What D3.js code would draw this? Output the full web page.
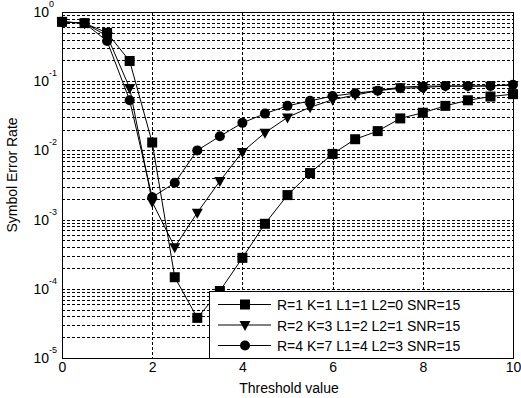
<!DOCTYPE html>
<html>
<head>
<meta charset="utf-8">
<script src="https://cdn.jsdelivr.net/npm/d3@7"></script>
<style>
  html, body { margin: 0; padding: 0; background: #fff; }
  svg { display: block; font-family: "Liberation Sans", Arial, sans-serif; }
</style>
</head>
<body>
<svg id="chart" width="521" height="398"></svg>
<script>
// Threshold values (x) shared by all three curves
const thresholds = [0, 0.5, 1, 1.5, 2, 2.5, 3, 3.5, 4, 4.5, 5, 5.5, 6, 6.5, 7, 7.5, 8, 8.5, 9, 9.5, 10];

// Symbol error rate for each parameter set
const serR1 = [0.72, 0.69, 0.5, 0.196, 0.013, 1.47e-4, 3.8e-5, 9.3e-5, 2.8e-4, 8.7e-4, 2.26e-3, 4.7e-3, 8.9e-3, 0.0145, 0.019, 0.029, 0.035, 0.044, 0.053, 0.06, 0.065];
const serR2 = [0.72, 0.69, 0.45, 0.08, 1.8e-3, 4.0e-4, 1.26e-3, 3.6e-3, 9.5e-3, 0.018, 0.030, 0.042, 0.054, 0.063, 0.073, 0.082, 0.085, 0.085, 0.085, 0.086, 0.088];
const serR4 = [0.72, 0.69, 0.38, 0.053, 2.1e-3, 3.4e-3, 0.010, 0.016, 0.025, 0.034, 0.044, 0.052, 0.061, 0.067, 0.073, 0.079, 0.081, 0.085, 0.085, 0.085, 0.089];

const seriesLabels = ["R=1 K=1 L1=1 L2=0 SNR=15", "R=2 K=3 L1=2 L2=1 SNR=15", "R=4 K=7 L1=4 L2=3 SNR=15"];
const seriesMarkers = ["square", "triangleDown", "circle"];

const xTicks = [0, 2, 4, 6, 8, 10];
const yExponents = [0, -1, -2, -3, -4, -5];
const xLabel = "Threshold value";
const yLabel = "Symbol Error Rate";

const svg = d3.select("#chart");
const pLeft = 62, pRight = 513, pTop = 12, pBottom = 358;

const x = d3.scaleLinear().domain([0, 10]).range([pLeft, pRight]);
const y = d3.scaleLog().domain([1e-5, 1]).range([pBottom, pTop]);

const series = [serR1, serR2, serR4].map((vals, i) => ({
  label: seriesLabels[i],
  marker: seriesMarkers[i],
  points: thresholds.map((t, j) => ({ x: t, y: vals[j] }))
}));

// Grid: every decade plus minor 2..9 lines
const gridVals = [];
for (let e = -5; e < 0; e++) {
  for (let m = 1; m <= 9; m++) gridVals.push(m * Math.pow(10, e));
}
const grid = svg.append("g").attr("stroke", "#000").attr("stroke-width", 1)
  .attr("stroke-dasharray", "3,2").attr("shape-rendering", "crispEdges");
grid.selectAll("line.h").data(gridVals.filter(v => v > 1e-5)).join("line")
  .attr("class", "h")
  .attr("x1", pLeft).attr("x2", pRight)
  .attr("y1", d => Math.round(y(d)) + 0.5).attr("y2", d => Math.round(y(d)) + 0.5);
grid.selectAll("line.v").data(xTicks.filter(t => t > 0 && t < 10)).join("line")
  .attr("class", "v")
  .attr("y1", pTop).attr("y2", pBottom)
  .attr("x1", d => Math.round(x(d)) + 0.5).attr("x2", d => Math.round(x(d)) + 0.5);

// Axes box
svg.append("rect")
  .attr("x", pLeft + 0.5).attr("y", pTop + 0.5)
  .attr("width", pRight - pLeft).attr("height", pBottom - pTop)
  .attr("fill", "none").attr("stroke", "#000").attr("stroke-width", 1)
  .attr("shape-rendering", "crispEdges");

// X axis tick labels
const xAxis = d3.axisBottom(x).tickValues(xTicks).tickSize(0).tickPadding(4).tickFormat(d3.format("d"));
const gx = svg.append("g").attr("transform", `translate(0,${pBottom})`).call(xAxis);
gx.select(".domain").remove();
gx.selectAll("text").attr("font-size", 14).attr("fill", "#000")
  .attr("font-family", "Liberation Sans, Arial, sans-serif");

// Y axis tick labels (10 with superscript exponent)
const yLab = svg.append("g");
yExponents.forEach(e => {
  const yy = y(Math.pow(10, e));
  yLab.append("text").attr("x", 49).attr("y", yy + 5)
    .attr("text-anchor", "end").attr("font-size", 14).attr("fill", "#000").text("10");
  yLab.append("text").attr("x", 49).attr("y", yy - 5)
    .attr("font-size", 9).attr("fill", "#000").text(e === 0 ? "0" : "-" + Math.abs(e));
});

// Axis titles
svg.append("text").attr("x", 289).attr("y", 393)
  .attr("text-anchor", "middle").attr("font-size", 14).text(xLabel);
svg.append("text").attr("transform", `translate(17,175) rotate(-90)`)
  .attr("text-anchor", "middle").attr("font-size", 14).text(yLabel);

// Marker drawing helper
function drawMarker(g, type, cx, cy) {
  if (type === "square") {
    g.append("rect").attr("x", cx - 5).attr("y", cy - 5).attr("width", 10).attr("height", 10).attr("fill", "#000");
  } else if (type === "triangleDown") {
    g.append("path").attr("d", `M${cx - 5.5},${cy - 4} L${cx + 5.5},${cy - 4} L${cx},${cy + 6} Z`).attr("fill", "#000");
  } else {
    g.append("circle").attr("cx", cx).attr("cy", cy).attr("r", 5).attr("fill", "#000");
  }
}

const line = d3.line().x(d => x(d.x)).y(d => y(d.y));
const plot = svg.append("g");
series.forEach(s => {
  plot.append("path").datum(s.points).attr("d", line)
    .attr("fill", "none").attr("stroke", "#000").attr("stroke-width", 1);
  const mg = plot.append("g");
  s.points.forEach(p => drawMarker(mg, s.marker, x(p.x), y(p.y)));
});

// Legend
const lg = svg.append("g");
lg.append("rect").attr("x", 209.5).attr("y", 291.5).attr("width", pRight - 209).attr("height", pBottom - 291)
  .attr("fill", "#fff").attr("stroke", "#000").attr("stroke-width", 1).attr("shape-rendering", "crispEdges");
series.forEach((s, i) => {
  const ly = 304.5 + i * 20.5;
  lg.append("line").attr("x1", 218).attr("x2", 271).attr("y1", ly).attr("y2", ly)
    .attr("stroke", "#000").attr("stroke-width", 1);
  drawMarker(lg, s.marker, 245, ly);
  lg.append("text").attr("x", 277).attr("y", ly + 5.5).attr("font-size", 14).attr("fill", "#000").text(s.label);
});
</script>
</body>
</html>
